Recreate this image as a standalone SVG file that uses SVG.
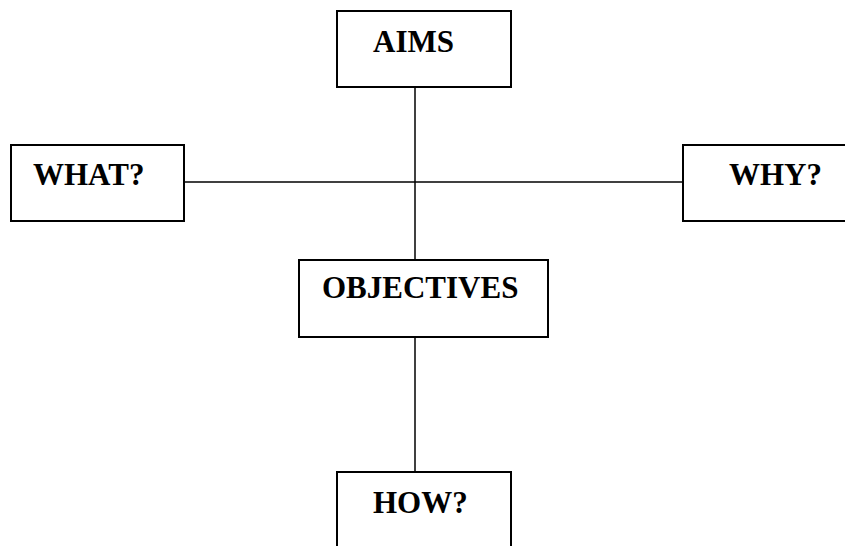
<svg xmlns="http://www.w3.org/2000/svg" width="845" height="546" viewBox="0 0 845 546">
<style>
.box{fill:#fff;stroke:#000;stroke-width:2}
.lbl{font-family:"Liberation Serif","Times New Roman",serif;font-weight:bold;font-size:31px;fill:#000}
.conn{stroke:#000;stroke-width:1.5;fill:none}
</style>
<rect width="845" height="546" fill="#fff"/>
<g id="connectors">
<line class="conn" x1="184" y1="182" x2="683" y2="182"/>
<line class="conn" x1="415" y1="87" x2="415" y2="260"/>
<line class="conn" x1="415" y1="337" x2="415" y2="472"/>
</g>
<g id="aims">
<rect class="box" x="337" y="11" width="174" height="76"/>
<text class="lbl" x="373" y="52">AIMS</text>
</g>
<g id="what">
<rect class="box" x="11" y="145" width="173" height="76"/>
<text class="lbl" x="33" y="185">WHAT?</text>
</g>
<g id="why">
<rect class="box" x="683" y="145" width="170" height="76"/>
<text class="lbl" x="729" y="185">WHY?</text>
</g>
<g id="objectives">
<rect class="box" x="299" y="260" width="249" height="77"/>
<text class="lbl" x="322" y="298">OBJECTIVES</text>
</g>
<g id="how">
<rect class="box" x="337" y="472" width="174" height="90"/>
<text class="lbl" x="373" y="513">HOW?</text>
</g>
</svg>
